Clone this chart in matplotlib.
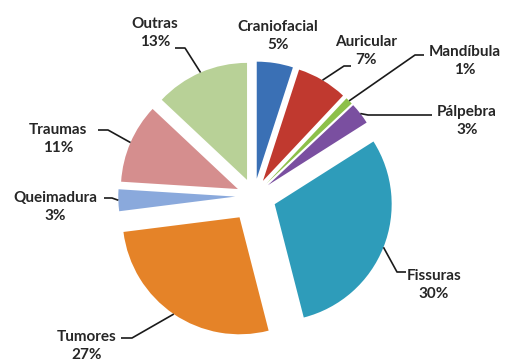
import numpy as np
import matplotlib.pyplot as plt

categories = ['Craniofacial', 'Auricular', 'Mandíbula', 'Pálpebra', 'Fissuras',
              'Tumores', 'Queimadura', 'Traumas', 'Outras']
percent = [5, 7, 1, 3, 30, 27, 3, 11, 13]

colors = ['#3A70B5', '#C0392F', '#8DC04A', '#7A4FA0', '#2E9CBA',
          '#E58328', '#8AA9DC', '#D58E8E', '#B8D197']
# how far each slice is pulled out, as a fraction of the radius
explode_frac = [0.15, 0.15, 0.15, 0.15, 0.19, 0.22, 0.16, 0.15, 0.15]

W, H = 506, 363
fig = plt.figure(figsize=(W / 100, H / 100), dpi=100)
ax = fig.add_axes([0, 0, 1, 1])

radius = 117
center = (254, H - 196)
wedges, _ = ax.pie(percent, colors=colors,
                   explode=[e * radius for e in explode_frac],
                   startangle=90, counterclock=False,
                   center=center, radius=radius,
                   wedgeprops=dict(linewidth=0))
ax.set_xlim(0, W)
ax.set_ylim(0, H)
ax.set_aspect('equal')
ax.axis('off')

# label block centres and leader-line elbows (pixels, y measured from top)
label_pos = [(278, 36), (366, 51), (465, 61), (467, 121), (434, 285),
             (87, 346), (55, 207), (58, 139), (155, 33)]
leader_pts = [None,
              [(344, 66), (351, 66)],
              [(415, 55), (424, 55)],
              [(368, 115), (432, 115)],
              [(397, 272), (406, 272)],
              [(132, 338), (121, 338)],
              [(112, 198), (104, 198)],
              [(108, 130), (98, 130)],
              [(185, 48), (175, 48)]]

txt_color = '#262626'
for w, name, p, pos, pts in zip(wedges, categories, percent, label_pos, leader_pts):
    ang = np.deg2rad((w.theta1 + w.theta2) / 2)
    cx, cy = w.center
    sx, sy = cx + w.r * np.cos(ang), cy + w.r * np.sin(ang)
    if pts is not None:
        xs = [sx] + [q[0] for q in pts]
        ys = [sy] + [H - q[1] for q in pts]
        ax.plot(xs, ys, color='#1a1a1a', lw=1.2, solid_capstyle='butt')
    ax.text(pos[0], H - pos[1], f'{name}\n{p}%', ha='center', va='center',
            fontsize=11, fontweight='bold', family='Lato', color=txt_color,
            linespacing=1.4)

fig.savefig('out.png', dpi=100)
